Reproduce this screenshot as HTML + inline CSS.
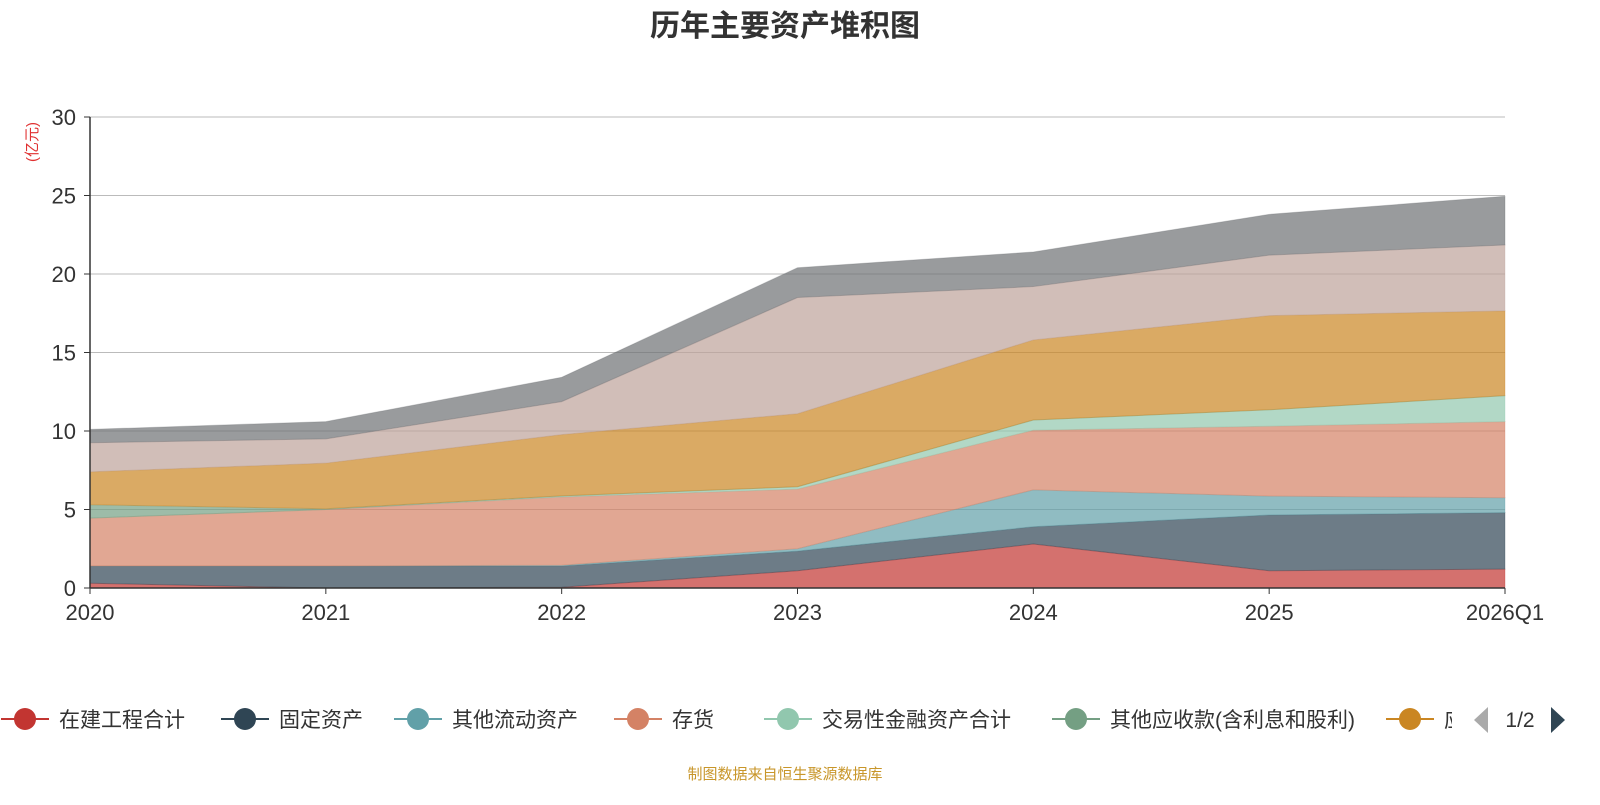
<!DOCTYPE html>
<html><head><meta charset="utf-8"><style>
body{margin:0;background:#fff;width:1600px;height:800px;overflow:hidden;font-family:"Liberation Sans","Noto Sans CJK SC",sans-serif;}
</style></head><body>
<svg id="chart" width="1600" height="800" xmlns="http://www.w3.org/2000/svg" font-family="Liberation Sans, Noto Sans CJK SC, sans-serif">
<text x="785" y="36" text-anchor="middle" font-size="30" font-weight="bold" fill="#333">历年主要资产堆积图</text>
<text transform="translate(37,142) rotate(-90)" text-anchor="middle" font-size="15" fill="#e03030">(亿元)</text>
<g id="grid"></g><g id="areas"></g><g id="axes"></g><g id="legend"></g>
<text x="785" y="779" text-anchor="middle" font-size="15" fill="#c8962a">制图数据来自恒生聚源数据库</text>
</svg>
<script>
const categories=["2020","2021","2022","2023","2024","2025","2026Q1"];
const seriesNames=["在建工程合计","固定资产","其他流动资产","存货","交易性金融资产合计","其他应收款(含利息和股利)","应收账款","货币资金","其他"];
const s0=[0.3,0.0,0.05,1.1,2.8,1.1,1.2];
const s1=[1.1,1.4,1.35,1.25,1.1,3.55,3.6];
const s2=[0.0,0.0,0.05,0.15,2.35,1.2,0.95];
const s3=[3.05,3.6,4.35,3.8,3.8,4.45,4.85];
const s4=[0.0,0.0,0.05,0.15,0.65,1.05,1.65];
const s5=[0.85,0.05,0.02,0.0,0.0,0.0,0.0];
const s6=[2.1,2.9,3.9,4.65,5.1,6.0,5.4];
const s7=[1.85,1.55,2.1,7.4,3.4,3.85,4.2];
const s8=[0.85,1.1,1.55,1.9,2.2,2.6,3.1];
const yTicks=[0,5,10,15,20,25,30];
const colors=["#c23531","#2f4554","#61a0a8","#d48265","#91c7ae","#749f83","#ca8622","#bda29a","#6e7074"];
const series=[s0,s1,s2,s3,s4,s5,s6,s7,s8];
const NS="http://www.w3.org/2000/svg";
const x0=90,x1=1505,y0=588,y1=117;
const xs=i=>x0+(x1-x0)*i/(categories.length-1);
const ys=v=>y0-(y0-y1)*v/30;
function mk(t,a,p){const e=document.createElementNS(NS,t);for(const k in a)e.setAttribute(k,a[k]);p.appendChild(e);return e;}
const grid=document.getElementById('grid'),axes=document.getElementById('axes'),areas=document.getElementById('areas');
yTicks.forEach(t=>{
 if(t>0){const g=mk('line',{x1:x0,x2:x1,y1:ys(t),y2:ys(t),stroke:'#bbb','stroke-width':1},grid);
 
 }
 const tk=mk('line',{x1:x0-6,x2:x0,y1:ys(t),y2:ys(t),stroke:'#333'},axes);
 
 
 const l=mk('text',{x:x0-14,y:ys(t)+8,'text-anchor':'end','font-size':22,fill:'#333'},axes);l.textContent=t;
 
 
});
let base=categories.map(()=>0);
series.forEach((s,k)=>{
 const top=base.map((b,i)=>b+s[i]);
 let d='M'+categories.map((c,i)=>xs(i)+','+ys(top[i])).join('L');
 for(let i=categories.length-1;i>=0;i--)d+='L'+xs(i)+','+ys(base[i]);
 const p=mk('path',{d:d+'Z',fill:colors[k],'fill-opacity':0.7,stroke:colors[k],'stroke-opacity':0.3,'stroke-width':1},areas);
 
 
 base=top;
});
const ya=mk('line',{x1:x0,x2:x0,y1:y1,y2:y0,stroke:'#333','stroke-width':1.5},axes);


const xa=mk('line',{x1:x0,x2:x1,y1:y0,y2:y0,stroke:'#333','stroke-width':1.5},axes);


categories.forEach((c,i)=>{
 const tk=mk('line',{x1:xs(i),x2:xs(i),y1:y0,y2:y0+6,stroke:'#333'},axes);
 
 
 const l=mk('text',{x:xs(i),y:620,'text-anchor':'middle','font-size':22,fill:'#333'},axes);l.textContent=c;
 
 
});
const leg=document.getElementById('legend');
const legX=[25,245,418,638,788,1076,1410];
const clip=mk('clipPath',{id:'lc'},leg);mk('rect',{x:0,y:690,width:1452,height:60},clip);
const lg=mk('g',{'clip-path':'url(#lc)'},leg);
legX.forEach((x,k)=>{
 const g=mk('g',{},lg);
 
 
 mk('line',{x1:x-24,x2:x+24,y1:719,y2:719,stroke:colors[k],'stroke-width':2},g);
 mk('circle',{cx:x,cy:719,r:11,fill:colors[k]},g);
 const t=mk('text',{x:x+34,y:727,'font-size':21,fill:'#333'},g);t.textContent=seriesNames[k];
});
const pl=mk('path',{d:'M1488,707L1488,733L1474,720Z',fill:'#aaa'},leg);


const pt=mk('text',{x:1520,y:727,'text-anchor':'middle','font-size':21,fill:'#333'},leg);pt.textContent='1/2';


const pr=mk('path',{d:'M1551,707L1551,733L1565,720Z',fill:'#2f4554'},leg);


</script>
</body></html>
